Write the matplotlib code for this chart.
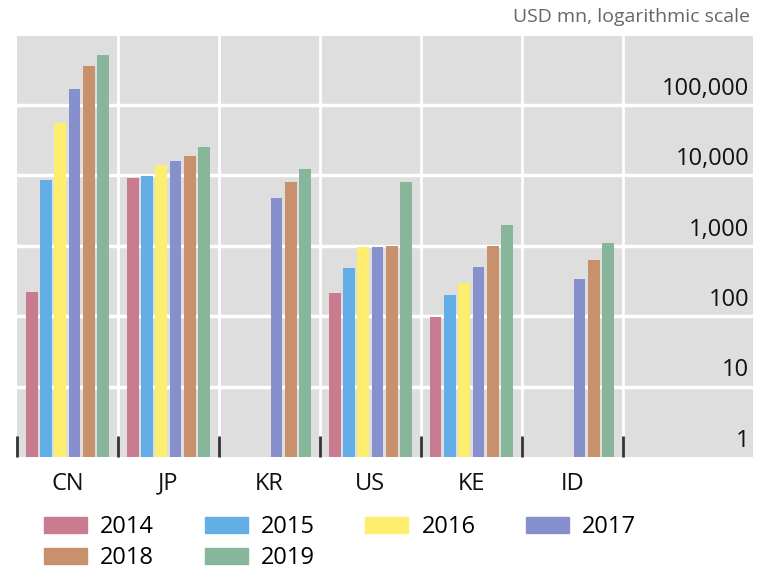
#!/usr/bin/env python3
"""Grouped bar chart on a log scale, by country and year."""
import numpy as np
import matplotlib.pyplot as plt
from matplotlib.patches import Patch

plt.rcParams['font.family'] = ['Open Sans', 'DejaVu Sans']

countries = ['CN', 'JP', 'KR', 'US', 'KE', 'ID']
years = ['2014', '2015', '2016', '2017', '2018', '2019']
colors = ['#C97B8F', '#63AEE6', '#FDEE6F', '#8590CC', '#C8916B', '#88B69A']

# values in USD mn, None = no data
v2014 = [220, 9300, None, 210, 98, None]
v2015 = [8600, 9900, None, 480, 200, None]
v2016 = [56000, 14200, None, 950, 300, None]
v2017 = [170000, 16200, 4700, 970, 495, 340]
v2018 = [360000, 18900, 7900, 1000, 990, 635]
v2019 = [510000, 25600, 12200, 8100, 1970, 1100]
series = [v2014, v2015, v2016, v2017, v2018, v2019]

ytick_vals = [1, 10, 100, 1000, 10000, 100000]
ytick_labels = ['1', '10', '100', '1,000', '10,000', '100,000']


def main():
    fig = plt.figure(figsize=(7.58, 5.71), dpi=100)
    ax = fig.add_axes([17 / 758, 114 / 571, 736 / 758, 421 / 571])
    ax.set_facecolor('#DEDEDE')
    for s in ax.spines.values():
        s.set_visible(False)

    x = np.arange(len(countries))
    pitch = 0.1415
    width = 0.116
    for i, (vals, c) in enumerate(zip(series, colors)):
        xs = [xi + (i - 2.5) * pitch for xi, v in zip(x, vals) if v is not None]
        hs = [v for v in vals if v is not None]
        ax.bar(xs, [h - 1 for h in hs], bottom=1, width=width, color=c, zorder=3)

    ax.set_yscale('log')
    ax.set_ylim(1, 9.5e5)
    ax.set_xlim(-0.5, 6.79)

    # white grid lines and group separators
    for v in ytick_vals[1:]:
        ax.axhline(v, color='white', lw=2.5, zorder=1)
    for b in np.arange(0.5, 6, 1):
        ax.axvline(b, color='white', lw=2, zorder=1)

    ax.set_yticks([])
    ax.minorticks_off()
    ax.set_xticks(x)
    ax.set_xticklabels(countries, fontsize=17, color='#111111')
    ax.tick_params(axis='x', length=0, pad=10.5)
    ax.set_xticks(np.arange(-0.5, 6, 1), minor=True)
    ax.tick_params(axis='x', which='minor', direction='in', length=15, width=2, color='#333333')
    for t in ax.xaxis.get_minorticklines():
        t.set_zorder(4)

    trans = ax.get_yaxis_transform()
    for v, lab in zip(ytick_vals, ytick_labels):
        ax.annotate(lab, (0.995, v), xycoords=trans, xytext=(0, 3), textcoords='offset points',
                    ha='right', va='bottom', fontsize=17, color='#111111')

    fig.text(0.99, 0.955, 'USD mn, logarithmic scale', ha='right', va='bottom',
             fontsize=14, color='#666666')

    # legend filled row by row: 2014-2017 on top, 2018-2019 below
    handles = [Patch(color=c, label=y) for c, y in zip(colors, years)]
    order = [0, 4, 1, 5, 2, 3]
    fig.legend(handles=[handles[k] for k in order], ncol=4, loc='upper left',
               bbox_to_anchor=(44 / 758, 1 - 515 / 571),
               frameon=False, fontsize=17, handlelength=1.82, handleheight=0.68,
               handletextpad=0.55, columnspacing=2.15, labelspacing=0.3,
               borderpad=0, borderaxespad=0)

    fig.savefig('out.png', dpi=100)
    plt.close(fig)


if __name__ == '__main__':
    main()
